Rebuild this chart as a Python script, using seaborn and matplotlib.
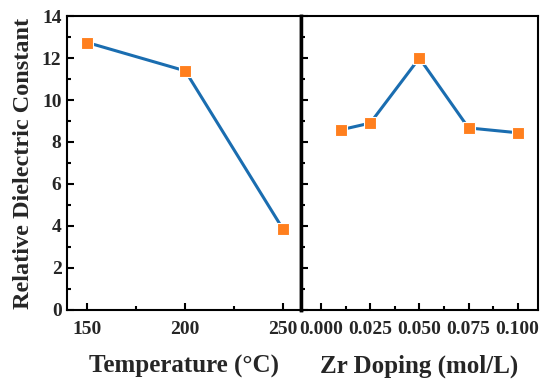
import numpy as np
import pandas as pd
import seaborn as sns
import matplotlib.pyplot as plt
from matplotlib.ticker import MultipleLocator

# Data
temperature = [150, 200, 250]
eps_temp = [12.74, 11.39, 3.83]

zr_doping = [0.01, 0.025, 0.05, 0.075, 0.1]
eps_zr = [8.58, 8.90, 12.0, 8.67, 8.44]

temp_ticks = [150, 200, 250]
zr_ticks = [0.000, 0.025, 0.050, 0.075, 0.100]
y_ticks = [0, 2, 4, 6, 8, 10, 12, 14]

df_t = pd.DataFrame({"x": temperature, "y": eps_temp})
df_z = pd.DataFrame({"x": zr_doping, "y": eps_zr})

sns.set_style("white")
plt.rcParams['font.family'] = ['Liberation Serif', 'DejaVu Serif']
plt.rcParams['font.weight'] = 'bold'

line_color = "#1a6db0"
mark_color = "#ff7f1e"

fig = plt.figure(figsize=(5.5, 3.83), dpi=100)
ax1 = fig.add_axes([0.122, 0.191, 0.425, 0.767])
ax2 = fig.add_axes([0.547, 0.191, 0.431, 0.767])

for ax, d in [(ax1, df_t), (ax2, df_z)]:
    sns.lineplot(data=d, x="x", y="y", ax=ax, color=line_color, lw=2.2,
                 marker="s", markersize=8, markerfacecolor=mark_color,
                 markeredgecolor="white", markeredgewidth=0.8)
    ax.set_ylim(0, 14)
    ax.set_yticks(y_ticks)
    ax.yaxis.set_minor_locator(MultipleLocator(1))
    ax.tick_params(which="both", direction="in", bottom=True, left=True,
                   top=False, right=False, labelsize=14, width=1.5,
                   color="black", pad=4)
    ax.tick_params(axis="x", which="both", pad=8)
    ax.tick_params(which="major", length=5)
    ax.tick_params(which="minor", length=3)
    for s in ax.spines.values():
        s.set_linewidth(1.5)
        s.set_color("black")

# left panel
ax1.set_xlim(139.7, 259)
ax1.set_xticks(temp_ticks)
ax1.xaxis.set_minor_locator(MultipleLocator(25))
ax1.set_xlabel("Temperature (\u00b0C)", fontsize=18, fontweight="bold", labelpad=12)
ax1.set_ylabel("Relative Dielectric Constant", fontsize=17.5, fontweight="bold",
               labelpad=6)
ax1.spines["right"].set_linewidth(2.5)

# right panel
ax2.set_xlim(-0.0103, 0.1103)
ax2.set_xticks(zr_ticks)
ax2.set_xticklabels([f"{v:.3f}" for v in zr_ticks])
ax2.xaxis.set_minor_locator(MultipleLocator(0.0125))
ax2.tick_params(axis="y", labelleft=False)
ax2.set_xlabel("Zr Doping (mol/L)", fontsize=18, fontweight="bold", labelpad=12)
ax2.set_ylabel("")
ax2.spines["left"].set_linewidth(2.5)

for ax in (ax1, ax2):
    for lbl in ax.get_xticklabels() + ax.get_yticklabels():
        lbl.set_fontweight("bold")

fig.savefig("out.png", dpi=100)
